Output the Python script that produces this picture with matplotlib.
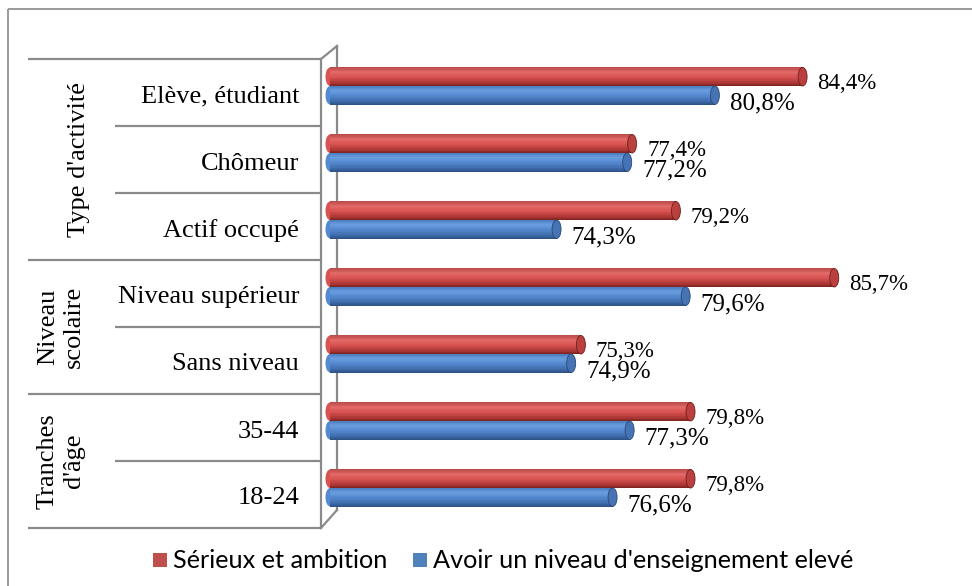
import matplotlib
matplotlib.use("Agg")
import matplotlib.pyplot as plt
from matplotlib.colors import LinearSegmentedColormap
from matplotlib.patches import Ellipse, Rectangle
import numpy as np

# ---- data ----
categories = ["Elève, étudiant", "Chômeur", "Actif occupé",
              "Niveau supérieur", "Sans niveau", "35-44", "18-24"]
groups = ["Type d'activité", "Niveau\nscolaire", "Tranches\nd'âge"]
group_sizes = [3, 2, 2]
serie_names = ["Sérieux et ambition", "Avoir un niveau d'enseignement elevé"]
serieux = [84.4, 77.4, 79.2, 85.7, 75.3, 79.8, 79.8]
enseignement = [80.8, 77.2, 74.3, 79.6, 74.9, 77.3, 76.6]
labels_serieux = ["84,4%", "77,4%", "79,2%", "85,7%", "75,3%", "79,8%", "79,8%"]
labels_ens = ["80,8%", "77,2%", "74,3%", "79,6%", "74,9%", "77,3%", "76,6%"]

W, H = 972, 586
fig = plt.figure(figsize=(W / 100, H / 100), dpi=100)
fig.patch.set_facecolor("white")

# overlay axes in pixel coordinates
ov = fig.add_axes([0, 0, 1, 1])
ov.set_xlim(0, W)
ov.set_ylim(H, 0)
ov.axis("off")

gray = "#8a8a8a"
lw = 1.6

# outer border (top and left visible)
ov.plot([8, 8], [H + 5, 9], color="#9a9a9a", lw=1.4, solid_capstyle="butt")
ov.plot([8, W + 5], [9, 9], color="#9a9a9a", lw=1.4, solid_capstyle="butt")

row_top, row_bot = 59, 528
n = len(categories)
pitch = (row_bot - row_top) / n
ax_x = 321
# back wall lines
ov.plot([ax_x, 337], [row_top, 46], color=gray, lw=lw, zorder=1)
ov.plot([337, 337], [46, 510], color=gray, lw=lw, zorder=1)
ov.plot([ax_x, 337], [row_bot, 510], color=gray, lw=lw, zorder=1)
ov.plot([ax_x, ax_x], [row_top, row_bot], color=gray, lw=lw, zorder=1)

# category separators
bounds = np.cumsum([0] + group_sizes)
for i in range(n + 1):
    y = row_top + i * pitch
    x0 = 28 if i in bounds else 115
    ov.plot([x0, ax_x], [y, y], color=gray, lw=lw, solid_capstyle="butt")

serif = ["Liberation Serif", "DejaVu Serif"]
for i, c in enumerate(categories):
    yc = row_top + (i + 0.5) * pitch + 4
    ov.text(299, yc, c, ha="right", va="center", fontsize=19, family=serif)

gx = [79, 61, 61]
for g, (name, s) in enumerate(zip(groups, group_sizes)):
    yc = row_top + (bounds[g] + s / 2) * pitch
    ov.text(gx[g], yc, name, rotation=90, ha="center", va="center",
            fontsize=19, family=serif, multialignment="center", linespacing=1.25)

# ---- bars axes ----
x65_px = 330
k = 24.36
xmin, xmax = 65, 90
shift = 6.5
ax = fig.add_axes([x65_px / W, 1 - (row_bot - shift) / H,
                   (xmax - xmin) * k / W, (row_bot - row_top) / H])
ax.set_xlim(xmin, xmax)
ax.set_ylim(n - 0.5, -0.5)
ax.axis("off")

bh = 18.5 / pitch
cap_w = 2 * 4.5 / k

red_cmap = LinearSegmentedColormap.from_list(
    "r", [(0, "#b84a48"), (0.25, "#e36a68"), (0.5, "#d85452"), (0.85, "#a83533"), (1, "#7e2321")])
blue_cmap = LinearSegmentedColormap.from_list(
    "b", [(0, "#4a7cc0"), (0.25, "#6a9fe0"), (0.5, "#5589d0"), (0.85, "#3d6aa8"), (1, "#2c4f82")])
nsl = 24

def cylinder(yc, v, cmap, capcol, rim, z):
    top = yc - bh / 2
    for s in range(nsl):
        t = (s + 0.5) / nsl
        ax.barh(top + (s + 0.5) * bh / nsl, v - xmin, left=xmin, height=bh / nsl * 1.05,
                color=cmap(t), edgecolor="none", zorder=z)
    ax.add_patch(Ellipse((xmin, yc), cap_w, bh, facecolor=cmap(0.5), edgecolor="none",
                         zorder=z - 0.5, clip_on=False))
    ax.add_patch(Ellipse((v, yc), cap_w, bh, facecolor=capcol, edgecolor=rim,
                         lw=0.6, zorder=z + 0.5, clip_on=False))

for i in range(n):
    yr = i - bh / 2
    yb = i + bh / 2
    cylinder(yr, serieux[i], red_cmap, "#b9403e", "#6e1f1e", 3)
    cylinder(yb, enseignement[i], blue_cmap, "#4673b4", "#284873", 4)
    ax.annotate(labels_serieux[i], (serieux[i], yr), xytext=(15, -7), textcoords="offset pixels",
                ha="left", va="center", fontsize=16.5, family=serif, annotation_clip=False)
    ax.annotate(labels_ens[i], (enseignement[i], yb), xytext=(15, -8), textcoords="offset pixels",
                ha="left", va="center", fontsize=18, family=serif, annotation_clip=False)

# legend
leg_font = ["Lato", "DejaVu Sans"]
ov.add_patch(Rectangle((153, 553), 14, 14, facecolor="#c0504d", edgecolor="none"))
ov.text(173, 560, serie_names[0], ha="left", va="center", fontsize=18.2, family=leg_font)
ov.add_patch(Rectangle((413, 553), 14, 14, facecolor="#4f81bd", edgecolor="none"))
ov.text(433, 560, serie_names[1], ha="left", va="center", fontsize=18.2, family=leg_font)

fig.savefig("out.png", dpi=100, facecolor="white")
